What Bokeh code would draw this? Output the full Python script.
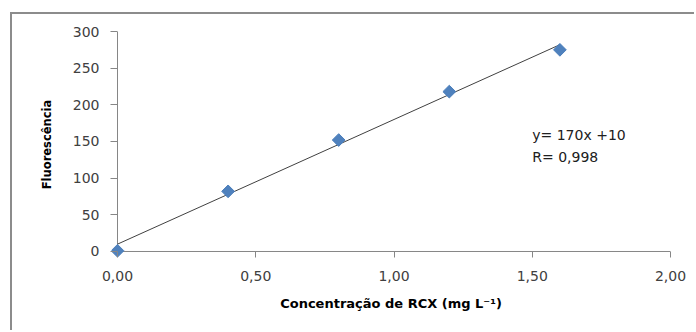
import numpy as np
from bokeh.plotting import figure
from bokeh.models import FixedTicker, CustomJSTickFormatter, Label, Range1d
from bokeh.embed import file_html
from bokeh.resources import INLINE

# data
concentration = [0.0, 0.4, 0.8, 1.2, 1.6]
fluorescence = [1, 82, 152, 218, 275]
slope = 170
intercept = 10
eq_text = "y= 170x +10"
r_text = "R= 0,998"
x_ticks = [0.0, 0.5, 1.0, 1.5, 2.0]
y_ticks = [0, 50, 100, 150, 200, 250, 300]
x_label = "Concentração de RCX (mg L⁻¹)"
y_label = "Fluorescência"

# small padding so that the marker at the origin is not clipped
x_pad = 0.0217
y_pad = 8.2

p = figure(width=684, height=318, output_backend="svg", toolbar_location=None,
           x_range=Range1d(x_ticks[0] - x_pad, x_ticks[-1]),
           y_range=Range1d(y_ticks[0] - y_pad, y_ticks[-1]),
           min_border_left=99, min_border_right=26, min_border_top=17, min_border_bottom=75,
           margin=(12, 0, 0, 10))
p.styles = {"border-left": "2px solid #8c8c8c", "border-top": "2px solid #8c8c8c"}
p.background_fill_color = "white"
p.border_fill_color = "white"
p.outline_line_color = None
p.xgrid.grid_line_color = None
p.ygrid.grid_line_color = None

FONT = "DejaVu Sans"
AX = "#868686"

for ax in (p.xaxis[0], p.yaxis[0]):
    ax.axis_line_color = None
    ax.major_tick_line_color = AX
    ax.minor_tick_line_color = None
    ax.major_label_text_font = FONT
    ax.major_label_text_font_size = "14px"
    ax.major_label_text_color = "#404040"
    ax.axis_label_text_font = FONT
    ax.axis_label_text_font_style = "bold"
    ax.axis_label_text_color = "black"

p.xaxis.major_tick_in = 6
p.xaxis.major_tick_out = 0
p.yaxis.major_tick_in = 6
p.yaxis.major_tick_out = 1
p.xaxis.axis_label_text_font_size = "13px"
p.yaxis.axis_label_text_font_size = "11.5px"

p.xaxis.ticker = FixedTicker(ticks=x_ticks)
p.yaxis.ticker = FixedTicker(ticks=y_ticks)
p.xaxis.formatter = CustomJSTickFormatter(code="return tick.toFixed(2).replace('.', ',');")
p.xaxis.axis_label = x_label
p.yaxis.axis_label = y_label
p.xaxis.major_label_standoff = 13
p.yaxis.major_label_standoff = 11
p.xaxis.axis_label_standoff = 12
p.yaxis.axis_label_standoff = 16

# axis lines through the origin
p.segment(x0=[x_ticks[0], x_ticks[0]], y0=[y_ticks[0], y_ticks[0]],
          x1=[x_ticks[-1], x_ticks[0]], y1=[y_ticks[0], y_ticks[-1]],
          line_color=AX, line_width=1)

# trend line
xs = np.array([concentration[0], concentration[-1]])
p.line(xs, slope * xs + intercept, line_color="#404040", line_width=1)

p.scatter(concentration, fluorescence, marker="square", angle=np.pi / 4, size=9,
          fill_color="#4F81BD", line_color="#4A7EBB")

p.add_layout(Label(x=1.5, y=170, text=eq_text, text_baseline="top", text_font=FONT,
                   text_font_size="14px", text_color="#202020"))
p.add_layout(Label(x=1.5, y=140, text=r_text, text_baseline="top", text_font=FONT,
                   text_font_size="14px", text_color="#202020"))

open("out.html", "w").write(file_html(p, INLINE))
